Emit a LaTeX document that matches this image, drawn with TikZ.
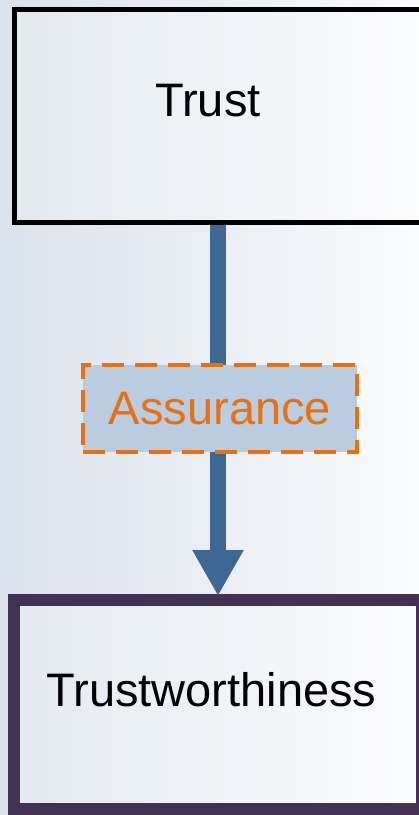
\documentclass[tikz,border=0pt]{standalone}
\usepackage{fontspec}
\setmainfont{Liberation Sans}
\usetikzlibrary{arrows.meta}

\definecolor{bgleft}{HTML}{DAE2EB}
\definecolor{bgright}{HTML}{FAFBFD}
\definecolor{arrowblue}{HTML}{3C6893}
\definecolor{assurefill}{HTML}{BACDE0}
\definecolor{assureorange}{HTML}{E8700F}
\definecolor{twpurple}{HTML}{433153}

\tikzset{
  bigtext/.style={font=\fontsize{47}{56}\selectfont, inner sep=0pt},
  trustbox/.style={draw=black, line width=5pt, minimum width=408pt, minimum height=213pt, fill=white, fill opacity=0.25},
  twbox/.style={draw=twpurple, line width=12pt, minimum width=408pt, minimum height=209pt, fill=white, fill opacity=0.25},
  assurebox/.style={draw=assureorange, fill=assurefill, line width=4pt, dash pattern=on 22pt off 11pt,
    minimum width=274pt, minimum height=87pt, text=assureorange},
}

\begin{document}
\begin{tikzpicture}[x=1pt, y=-1pt]
      \useasboundingbox (0,0) rectangle (419,815);
      \clip (0,0) rectangle (419,815);
      \shade [left color=bgleft, right color=bgright] (0,0) rectangle (419,815);
      \node[trustbox] (trust) at (218,116) {};
      \node[bigtext] (trusttext) at (208,101) {Trust};
      \node[twbox] (tw) at (218,704.5) {};
      \node[bigtext] (twtext) at (211.5,690) {Trustworthiness};
      \draw [arrowblue, line width=16pt, -{Triangle[length=46pt, width=48pt]}] (trust.south) -- ([yshift=-2pt]tw.north);
      \node[assurebox, bigtext] (assure) at (220,408.5) {Assurance};
    \end{tikzpicture}
\end{document}
